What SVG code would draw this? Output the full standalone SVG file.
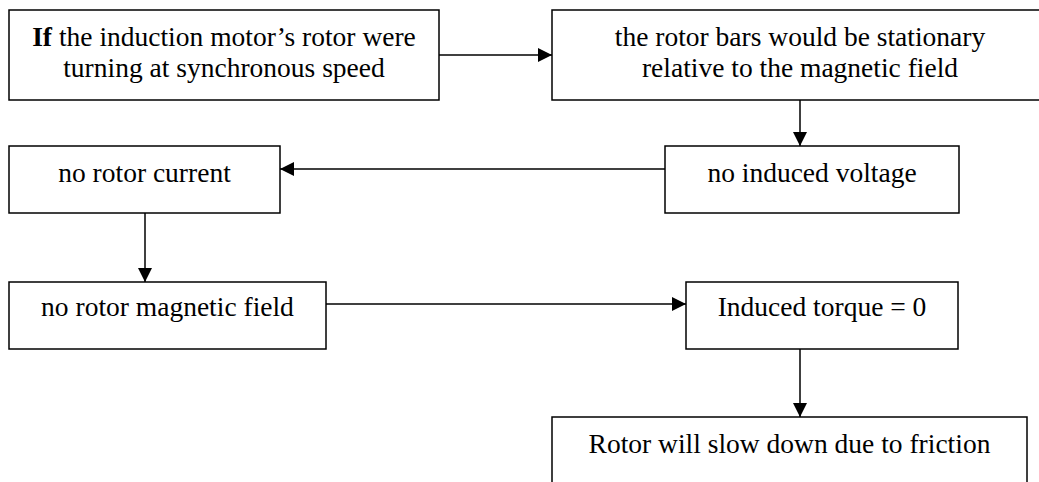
<svg xmlns="http://www.w3.org/2000/svg" width="1039" height="482" viewBox="0 0 1039 482">
  <defs>
    <marker id="arrow" viewBox="0 0 14 14" refX="14" refY="7" markerWidth="14" markerHeight="14" markerUnits="userSpaceOnUse" orient="auto">
      <path d="M0,0 L14,7 L0,14 Z" fill="#000"/>
    </marker>
    <style>
      .box { fill: #fff; stroke: #000; stroke-width: 1.5; }
      .label { font-family: "Liberation Serif", "Times New Roman", serif; font-size: 27.5px; fill: #000; text-anchor: middle; }
      .edge { stroke: #000; stroke-width: 1.5; fill: none; marker-end: url(#arrow); }
    </style>
  </defs>
  <rect width="1039" height="482" fill="#fff"/>

  <!-- connectors -->
  <g id="connectors">
    <line class="edge" x1="439" y1="55" x2="552" y2="55"/>
    <line class="edge" x1="800" y1="100" x2="800" y2="146"/>
    <line class="edge" x1="665" y1="169" x2="280" y2="169"/>
    <line class="edge" x1="145" y1="213" x2="145" y2="282"/>
    <line class="edge" x1="326" y1="304" x2="686" y2="304"/>
    <line class="edge" x1="800" y1="349" x2="800" y2="417"/>
  </g>

  <g id="node-start">
    <rect class="box" x="9" y="10" width="430" height="90"/>
    <text class="label" x="224" y="45.7"><tspan font-weight="bold">If</tspan> the induction motor’s rotor were</text>
    <text class="label" x="224" y="77">turning at synchronous speed</text>
  </g>

  <g id="node-stationary">
    <rect class="box" x="552" y="10" width="496" height="90"/>
    <text class="label" x="800" y="45.7">the rotor bars would be stationary</text>
    <text class="label" x="800" y="77">relative to the magnetic field</text>
  </g>

  <g id="node-no-voltage">
    <rect class="box" x="665" y="146" width="294" height="67"/>
    <text class="label" x="812" y="181.7">no induced voltage</text>
  </g>

  <g id="node-no-current">
    <rect class="box" x="9" y="146" width="271" height="67"/>
    <text class="label" x="144.5" y="181.7">no rotor current</text>
  </g>

  <g id="node-no-field">
    <rect class="box" x="9" y="282" width="317" height="67"/>
    <text class="label" x="167.5" y="316">no rotor magnetic field</text>
  </g>

  <g id="node-torque">
    <rect class="box" x="686" y="282" width="272" height="67"/>
    <text class="label" x="822" y="316">Induced torque = 0</text>
  </g>

  <g id="node-slowdown">
    <rect class="box" x="552" y="417" width="475" height="80"/>
    <text class="label" x="789.5" y="453">Rotor will slow down due to friction</text>
  </g>
</svg>
